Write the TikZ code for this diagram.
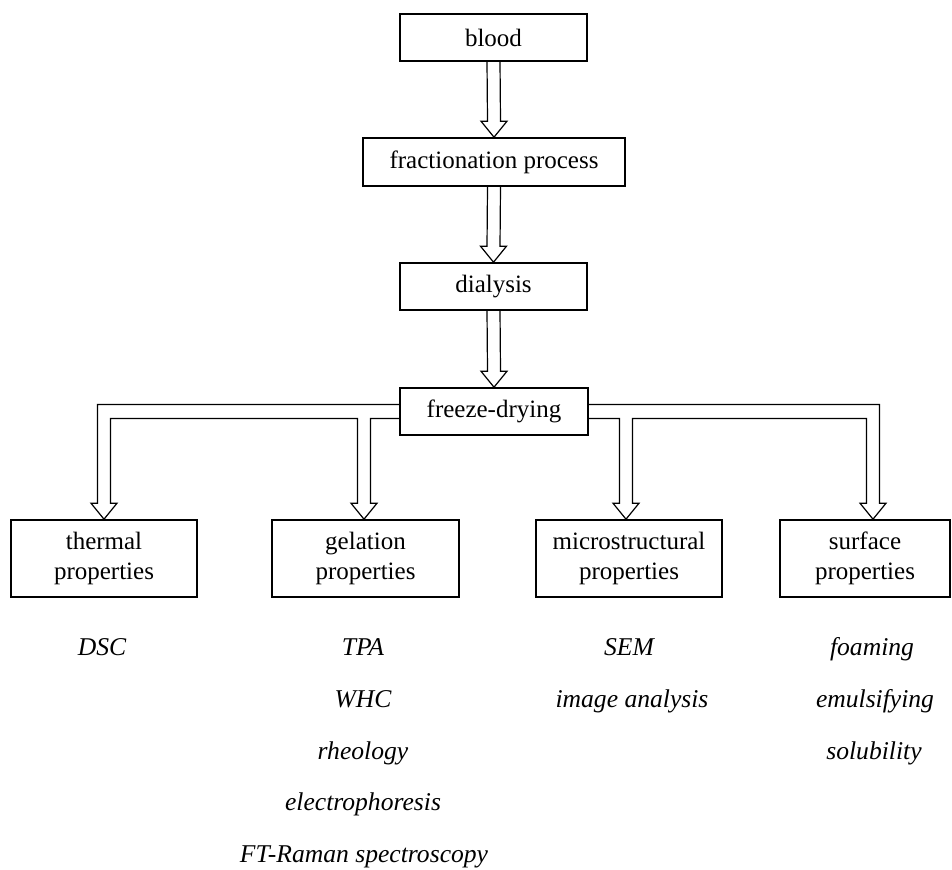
\documentclass[tikz,border=0pt]{standalone}
\usepackage{fontspec}
\setmainfont{Liberation Serif}
\usepackage{tikz}
\usetikzlibrary{calc, positioning}

\begin{document}
\begin{tikzpicture}[
    x=0.5pt, y=-0.5pt,
    font=\fontsize{12.5pt}{15pt}\selectfont,
    stage/.style={draw, line width=0.8pt, align=center, inner sep=0pt,
                  minimum width=93.5pt, minimum height=23.5pt},
    prop/.style={draw, line width=0.8pt, align=center, inner sep=0pt,
                 minimum width=93pt, minimum height=38.5pt},
    meth/.style={anchor=base, inner sep=0pt, font=\fontsize{12.8pt}{15pt}\selectfont\itshape},
    hol/.style={line width=0.6pt, line join=miter}
]
\useasboundingbox (0,0) rectangle (952,869);

% Processing chain, top to bottom
\node[stage] (blood)  at (493.5,37.5)  {blood};
\node[stage, minimum width=131pt, minimum height=24pt]
             (frac)   at (494,162)     {fractionation process};
\node[stage] (dial)   at (493.5,286.5) {dialysis};
\node[stage, minimum width=94pt]
             (freeze) at (494,411.5)   {freeze-drying};

% Property groups
\node[prop] (thermal)  at (104,558.5)   {thermal\\properties};
\node[prop, minimum width=93.5pt]
            (gelation) at (365.5,558.5) {gelation\\properties};
\node[prop] (micro)    at (629,558.5)   {microstructural\\properties};
\node[prop, minimum width=85pt]
            (surface)  at (865,558.5)   {surface\\properties};

% Methods under each group
\node[meth] (dsc)     at (102,655) {DSC};
\node[meth] (tpa)     at (363,655) {TPA};
\node[meth] (whc)     at (363,707) {WHC};
\node[meth] (rheo)    at (363,759) {rheology};
\node[meth] (electro) at (363,810) {electrophoresis};
\node[meth] (raman)   at (364,862) {FT-Raman spectroscopy};
\node[meth] (sem)     at (629,655) {SEM};
\node[meth] (imgan)   at (632,707) {image analysis};
\node[meth] (foam)    at (872,655) {foaming};
\node[meth] (emul)    at (875,707) {emulsifying};
\node[meth] (solub)   at (874,759) {solubility};

% Hollow arrows down the chain
\foreach \a/\b in {blood/frac, frac/dial, dial/freeze}
  \draw[hol] ($(\a.south)+(-6.5,0)$) -- ($(\b.north)+(-6.5,-16)$) -- ++(-6.5,0)
      -- (\b.north) -- ++(13,-16) -- ++(-6.5,0) -- ($(\a.south)+(6.5,0)$);

% Branch points on freeze-drying and arrow tips on the groups
\coordinate (oL) at ($(freeze.west)+(0,-7)$);
\coordinate (iL) at ($(freeze.west)+(0,7)$);
\coordinate (oR) at ($(freeze.east)+(0,-7)$);
\coordinate (iR) at ($(freeze.east)+(0,7)$);
\coordinate (tT) at (thermal.north);
\coordinate (tG) at ($(gelation.north)+(-1.5,0)$);
\coordinate (tM) at ($(micro.north)+(-3,0)$);
\coordinate (tS) at ($(surface.north)+(8,0)$);
\coordinate (gl) at ($(tG)+(-6.5,0)$);
\coordinate (mr) at ($(tM)+(6.5,0)$);

% Left branch: thermal and gelation
\draw[hol] (oL) -| ($(tT)+(-6.5,-16)$) -- ++(-6.5,0) -- (tT) -- ++(13,-16)
    -- ++(-6.5,0) |- (gl |- iL) -- ($(tG)+(-6.5,-16)$) -- ++(-6.5,0) -- (tG)
    -- ++(13,-16) -- ++(-6.5,0) |- (iL);

% Right branch: microstructural and surface
\draw[hol] (oR) -| ($(tS)+(6.5,-16)$) -- ++(6.5,0) -- (tS) -- ++(-13,-16)
    -- ++(6.5,0) |- (mr |- iR) -- ($(tM)+(6.5,-16)$) -- ++(6.5,0) -- (tM)
    -- ++(-13,-16) -- ++(6.5,0) |- (iR);

\end{tikzpicture}
\end{document}
